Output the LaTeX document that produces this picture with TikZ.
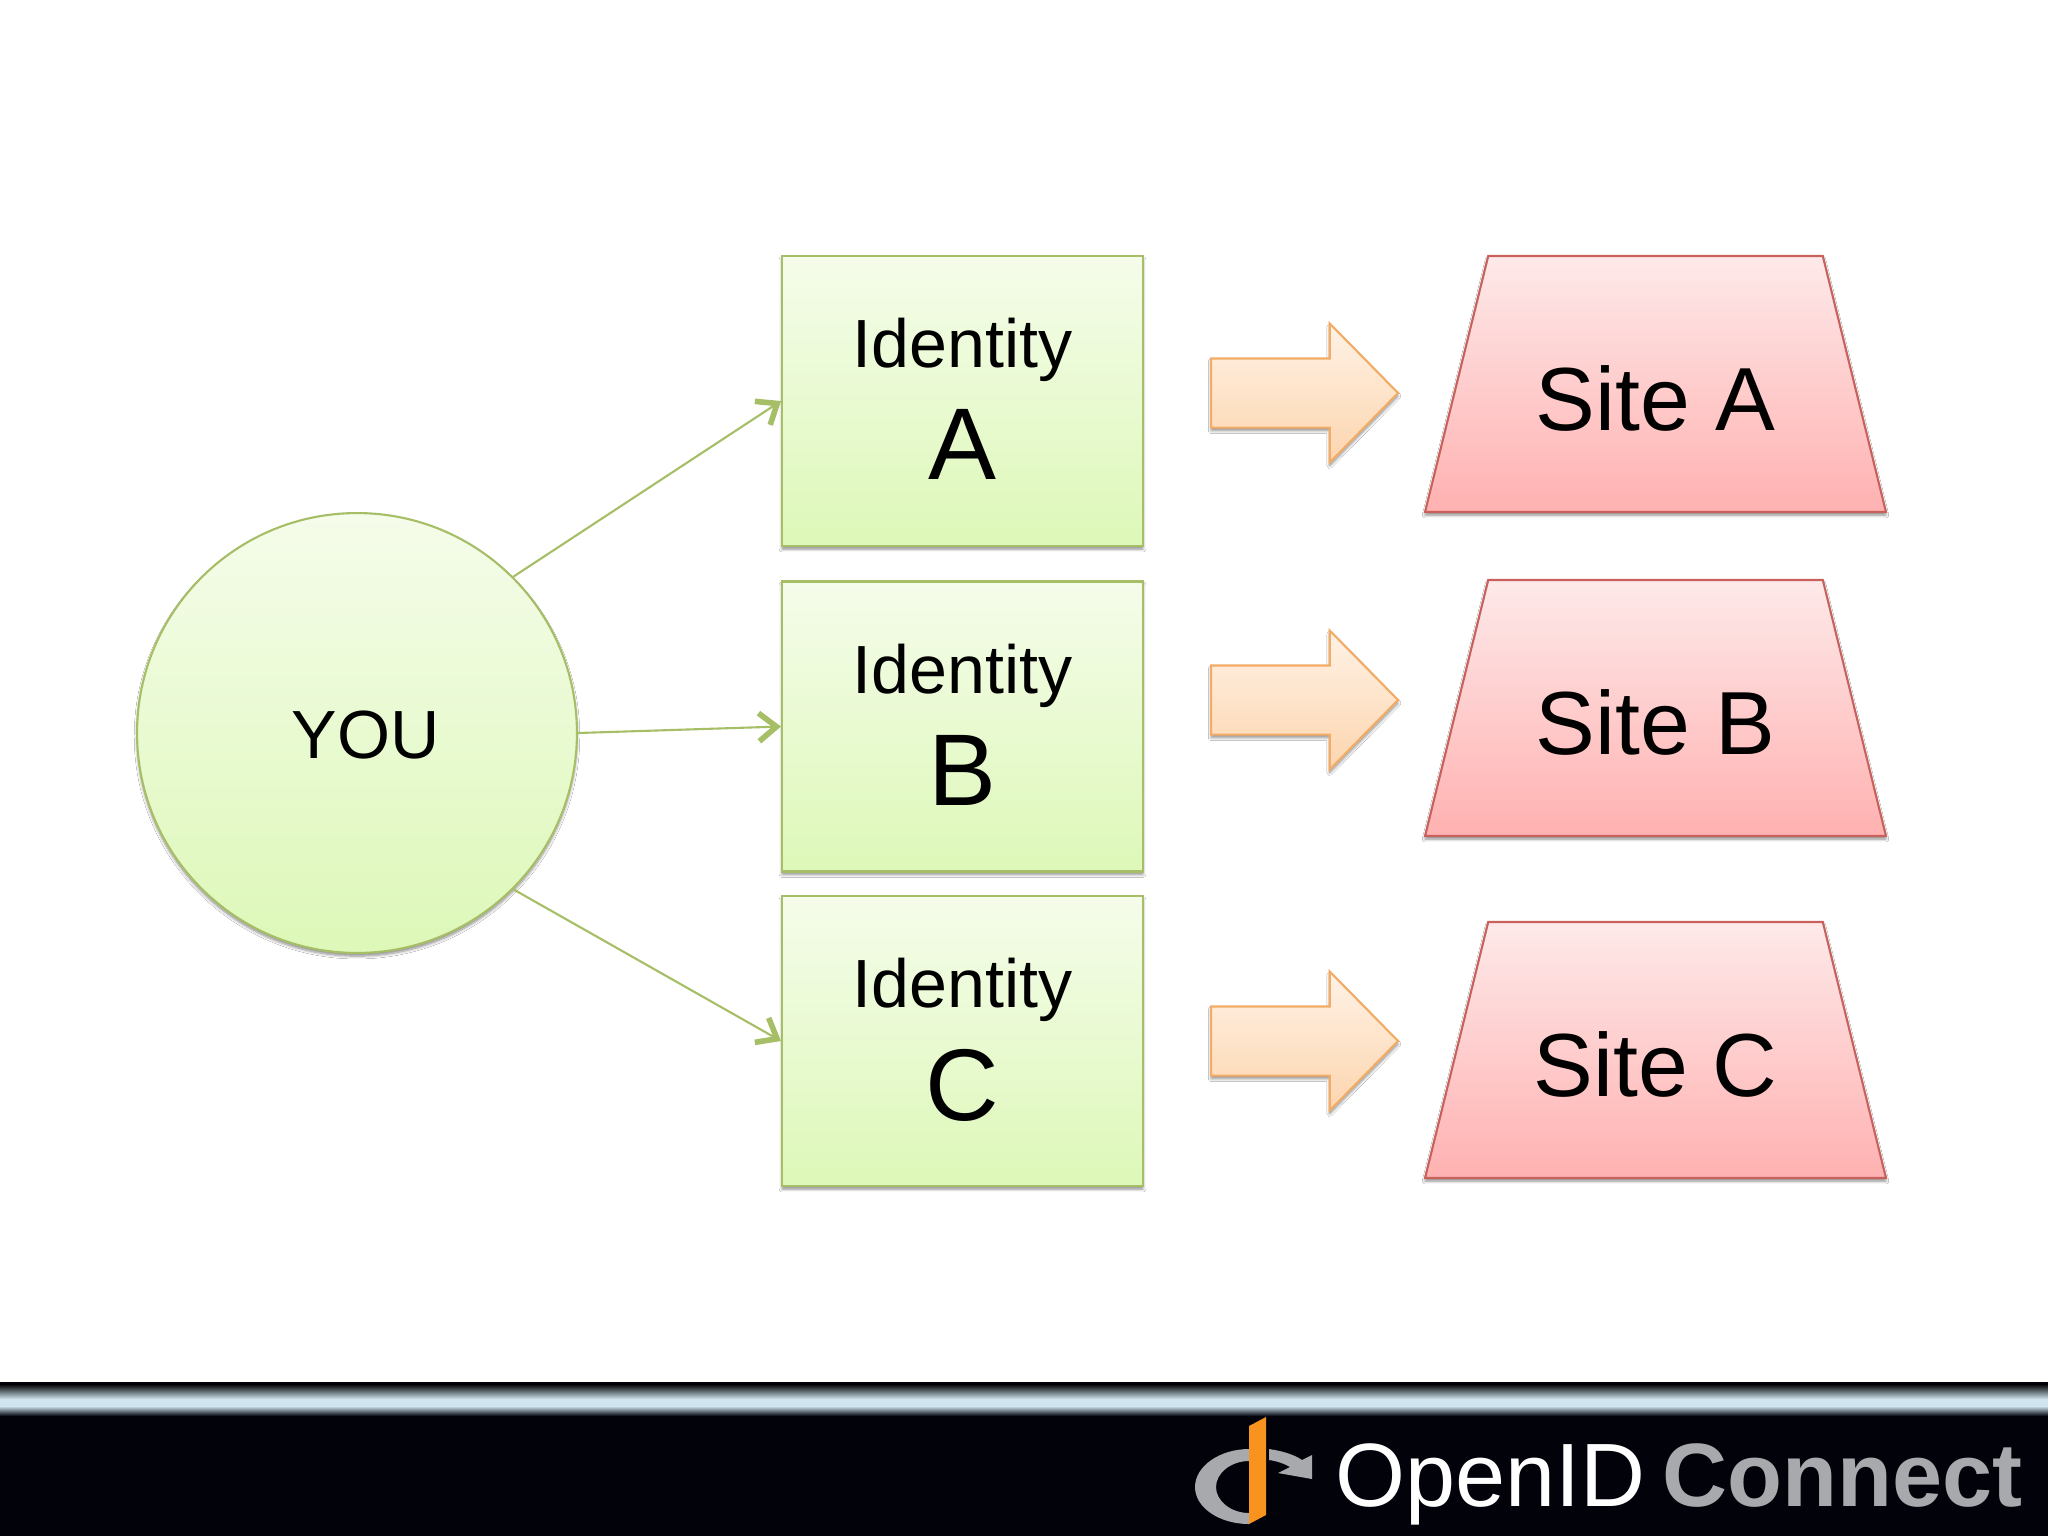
\documentclass[tikz,border=0pt]{standalone}
\usepackage{fontspec}
\setmainfont{Liberation Sans}
\usepackage{xcolor}
\usetikzlibrary{arrows.meta,shapes.geometric,shapes.arrows,shadows,shadows.blur}
\definecolor{boxline}{HTML}{A6BE66}
\definecolor{boxtop}{HTML}{F5FCEA}
\definecolor{boxmid}{HTML}{E8FBD0}
\definecolor{boxbot}{HTML}{DDF8B8}
\definecolor{siteline}{HTML}{C8605C}
\definecolor{sitetop}{HTML}{FEE9E9}
\definecolor{sitebot}{HTML}{FFB1B1}
\definecolor{arrline}{HTML}{F2AC66}
\definecolor{arrtop}{HTML}{FEF2E6}
\definecolor{arrbot}{HTML}{FDD5AE}
\definecolor{footdark}{HTML}{02020A}
\definecolor{footlight}{HTML}{D0E4F0}
\definecolor{logogray}{HTML}{A7A9AC}
\definecolor{logoorange}{HTML}{F7931E}
\tikzset{
softshadow/.style={blur shadow={shadow xshift=0pt,shadow yshift=-1.8pt,shadow blur steps=6,shadow blur radius=1.6pt,shadow opacity=45}},
youbox/.style={circle,draw=boxline,line width=1.2pt,top color=boxtop,middle color=boxmid,bottom color=boxbot,minimum size=8.8cm,inner sep=0pt,softshadow,font=\fontsize{38.8}{46}\selectfont,text height=29pt,text depth=0pt},
idbox/.style={rectangle,draw=boxline,line width=1.2pt,top color=boxtop,middle color=boxmid,bottom color=boxbot,minimum width=7.22cm,minimum height=5.8cm,inner sep=0pt,softshadow,align=center,font=\fontsize{38.8}{46}\selectfont},
sitebox/.style={trapezium,trapezium stretches body=true,trapezium left angle=55.6,trapezium right angle=55.6,draw=siteline,line width=1.2pt,top color=sitetop,bottom color=sitebot,minimum width=9.22cm,minimum height=5.12cm,inner sep=0pt,softshadow,font=\fontsize{51}{60}\selectfont,text height=52.5pt,text depth=0pt},
fatarrow/.style={single arrow,single arrow tip angle=91,single arrow head extend=0.7cm,draw=arrline,line width=1.2pt,top color=arrtop,bottom color=arrbot,minimum height=3.74cm,minimum width=2.74cm,inner xsep=0pt,inner ysep=0.67cm,softshadow,anchor=tip,shading angle=0},
link/.style={draw=boxline,line width=1.2pt,-{Straight Barb[length=10pt,width=16pt,line width=3.2pt]}},
logotext/.style={anchor=base west,inner sep=0pt,font=\fontsize{51.2}{60}\selectfont}
}
\newcommand{\biglet}[1]{{\fontsize{58}{60}\selectfont #1\rule[-2.3pt]{0pt}{0pt}}}
\begin{document}
\begin{tikzpicture}[x=0.02cm,y=-0.02cm]
\useasboundingbox (0,0) rectangle (2048,1536);
\fill[white] (0,0) rectangle (2048,1536);

\node[youbox] (you) at (357,733) {\hspace*{10pt}YOU};

\node[idbox] (idA) at (962.5,401) {Identity\\[14.7pt]\biglet{A}};
\node[idbox] (idB) at (962.5,726.5) {Identity\\[14.7pt]\biglet{B}};
\node[idbox] (idC) at (962.5,1041) {Identity\\[14.7pt]\biglet{C}};

\draw[link] (you.45) -- (idA.west);
\draw[link] (you.east) -- (idB.west);
\draw[link] (you.-45) -- (idC.west);

\node[fatarrow] (arrA) at (1399.5,393) {};
\node[fatarrow] (arrB) at (1399.5,700) {};
\node[fatarrow] (arrC) at (1399.5,1041) {};

\node[sitebox] (siteA) at (1655.5,384) {Site A};
\node[sitebox] (siteB) at (1655.5,708) {Site B};
\node[sitebox] (siteC) at (1655.5,1050) {Site C};

\fill[footdark] (0,1382) rectangle (2048,1536);
\shade[top color=black,bottom color=footlight] (0,1384) rectangle (2048,1399);
\fill[footlight] (0,1399) rectangle (2048,1406);
\shade[top color=footlight,bottom color=footdark] (0,1406) rectangle (2048,1416);

\fill[logogray] (1249,1449) .. controls (1220,1449) and (1195,1466) .. (1195,1487) .. controls (1195,1508) and (1220,1524) .. (1249,1524) -- (1249,1513) .. controls (1231,1513) and (1216,1501) .. (1216,1487) .. controls (1216,1473) and (1231,1461) .. (1249,1461) -- cycle;
\fill[logogray] (1269,1449) .. controls (1283,1451) and (1295,1455) .. (1302,1460) -- (1312,1455) -- (1312,1479) -- (1278,1473) -- (1290,1467) .. controls (1285,1464) and (1277,1461) .. (1269,1460) -- cycle;
\fill[logoorange] (1249,1426) -- (1266,1417) -- (1266,1515) -- (1249,1524) -- cycle;

\node[logotext,text=white] (openid) at (1335,1506) {OpenID};
\node[logotext,text=logogray] (connect) at (1662,1506) {\bfseries Connect};
\end{tikzpicture}
\end{document}
